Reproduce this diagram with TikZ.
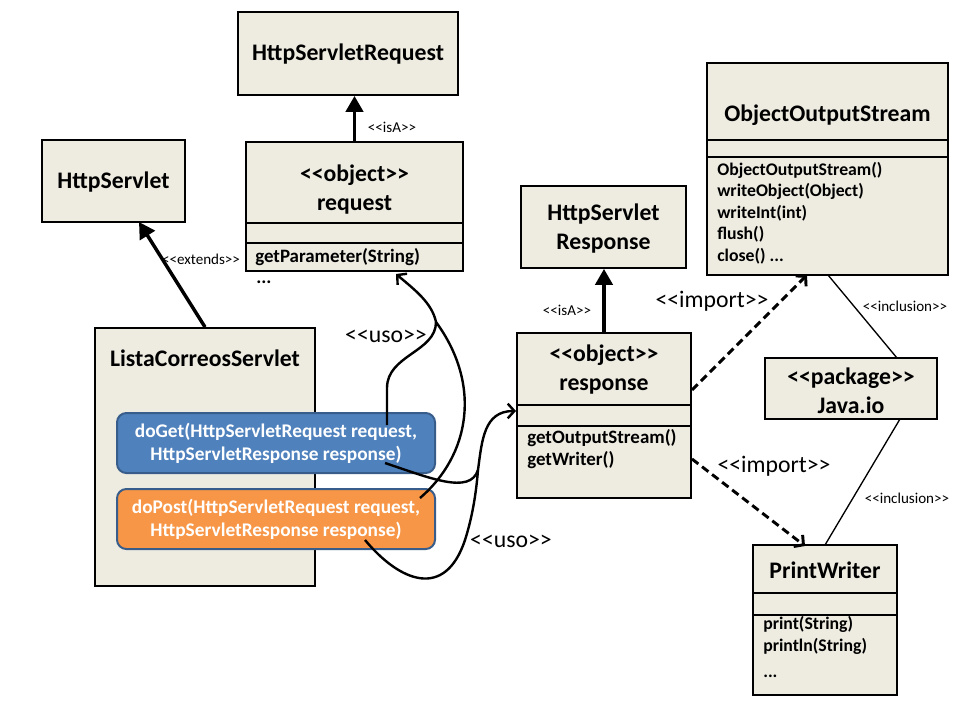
\documentclass[tikz,border=0pt]{standalone}
\usepackage{fontspec}
\setmainfont{Carlito}
\usetikzlibrary{arrows.meta,calc}
\definecolor{boxfill}{HTML}{EEECE1}
\definecolor{blueF}{HTML}{4F81BD}
\definecolor{blueD}{HTML}{385D8A}
\definecolor{orangeF}{HTML}{F79646}
\newcommand\ltlt{<\kern0pt<}
\newcommand\gtgt{>\kern0pt>}
\begin{document}
\begin{tikzpicture}[x=0.75pt,y=-0.75pt,
  cls/.style={draw=black, line width=1.4pt, fill=boxfill, inner sep=0pt, rectangle},
  ttl/.style={font=\bfseries\fontsize{17.8}{21.7}\selectfont, align=center, inner sep=0pt},
  meth/.style={font=\bfseries\fontsize{14.2}{16.5}\selectfont, align=left, anchor=west, inner sep=0pt},
  methS/.style={font=\bfseries\fontsize{13.3}{16.1}\selectfont, align=left, anchor=west, inner sep=0pt},
  small/.style={font=\fontsize{11.3}{13}\selectfont, inner sep=0pt},
  lab/.style={font=\fontsize{17.8}{20}\selectfont, inner sep=0pt},
  btn/.style={rounded corners=7pt, line width=1.5pt, draw=blueD, inner sep=0pt,
    text=white, font=\bfseries\fontsize{14.5}{17.3}\selectfont, align=center},
  isa/.style={line width=2.6pt, -{Triangle[length=12pt,width=13pt]}},
  uso/.style={line width=1.8pt},
  usoarr/.style={line width=1.8pt, -{Straight Barb[length=5pt,width=11pt]}},
  imp/.style={line width=2.2pt, dash pattern=on 6pt off 3.5pt, -{Straight Barb[length=5pt,width=11pt]}},
  incl/.style={line width=1pt}
]
\useasboundingbox (0,0) rectangle (960,720);

% ---- class boxes
\node[cls, minimum width=220*0.75pt, minimum height=83*0.75pt] (hsr) at (348,53.5) {};
\node[ttl] (hsrT) at (348,54) {HttpServletRequest};

\node[cls, minimum width=143*0.75pt, minimum height=82*0.75pt] (hs) at (113.5,181) {};
\node[ttl] (hsT) at (113.5,182) {HttpServlet};

\node[cls, minimum width=217*0.75pt, minimum height=129*0.75pt] (req) at (354.5,206.5) {};
\node[ttl] (reqT) at (354.5,189.5) {\ltlt object\gtgt\\request};
\draw[line width=1.2pt] (req.west |- 0,223) -- (req.east |- 0,223);
\draw[line width=1.2pt] (req.west |- 0,243) -- (req.east |- 0,243);
\node[meth] (reqM) at (255,257) {getParameter(String)};
\node[meth] (reqD) at (256,282) {...};

\node[cls, minimum width=220*0.75pt, minimum height=258*0.75pt] (lcs) at (205,457) {};
\node[ttl] (lcsT) at (205,358) {ListaCorreosServlet};

\node[btn, fill=blueF, minimum width=318*0.75pt, minimum height=60*0.75pt] (doget) at (276,443)
  {doGet(HttpServletRequest request,\\HttpServletResponse response)};
\node[btn, fill=orangeF, minimum width=318*0.75pt, minimum height=60*0.75pt] (dopost) at (276,519)
  {doPost(HttpServletRequest request,\\HttpServletResponse response)};

\node[cls, minimum width=165*0.75pt, minimum height=82*0.75pt] (hsresp) at (603.5,227) {};
\node[ttl] (hsrespT) at (603.5,228.5) {HttpServlet\\Response};

\node[cls, minimum width=174*0.75pt, minimum height=165*0.75pt] (resp) at (604,415.5) {};
\node[ttl] (respT) at (604,369.5) {\ltlt object\gtgt\\response};
\draw[line width=1.2pt] (resp.west |- 0,405) -- (resp.east |- 0,405);
\draw[line width=1.2pt] (resp.west |- 0,426) -- (resp.east |- 0,426);
\node[meth] (respM) at (527,449) {getOutputStream()\\getWriter()};

\node[cls, minimum width=241*0.75pt, minimum height=212*0.75pt] (oos) at (827.5,169) {};
\node[ttl] (oosT) at (827.5,115) {ObjectOutputStream};
\draw[line width=1.2pt] (oos.west |- 0,140) -- (oos.east |- 0,140);
\draw[line width=1.2pt] (oos.west |- 0,157) -- (oos.east |- 0,157);
\node[methS] (oosM) at (717,213) {ObjectOutputStream()\\writeObject(Object)\\writeInt(int)\\flush()\\close() ...};

\node[cls, minimum width=172*0.75pt, minimum height=61*0.75pt] (jio) at (851,388.5) {};
\node[ttl] (jioT) at (851,390.5) {\ltlt package\gtgt\\Java.io};

\node[cls, minimum width=144*0.75pt, minimum height=150*0.75pt] (pw) at (825,620) {};
\node[ttl] (pwT) at (825,570) {PrintWriter};
\draw[line width=1.2pt] (pw.west |- 0,593) -- (pw.east |- 0,593);
\draw[line width=1.2pt] (pw.west |- 0,615) -- (pw.east |- 0,615);
\node[methS] (pwM) at (763,635.5) {print(String)\\println(String)};
\node[methS] (pwD) at (763,676) {...};

% ---- generalisation arrows
\coordinate (hsb) at (139,222);
\draw[isa] (lcs.north) -- (hsb);
\node[small] (extL) at (201,259) {\ltlt extends\gtgt};
\draw[isa] (req.north) -- (req.north |- hsr.south);
\node[small] (isaL1) at (392,127) {\ltlt isA\gtgt};
\draw[isa] (resp.north) -- (resp.north |- hsresp.south);
\node[small] (isaL2) at (567,310) {\ltlt isA\gtgt};

% ---- import arrows
\coordinate (i1s) at (692,390);
\coordinate (i1e) at (807,275);
\coordinate (i2s) at (692,459);
\coordinate (i2e) at (805,546);
\draw[imp] (i1s) -- (i1e);
\draw[imp] (i2s) -- (i2e);
\node[lab] (impL1) at (712,301) {\ltlt import\gtgt};
\node[lab] (impL2) at (774,466) {\ltlt import\gtgt};

% ---- inclusion lines
\coordinate (c1s) at (828,275);
\coordinate (c1e) at (897,358);
\coordinate (c2s) at (900,419);
\coordinate (c2e) at (825,545);
\draw[incl] (c1s) -- (c1e);
\draw[incl] (c2s) -- (c2e);
\node[small] (inclL1) at (905,306) {\ltlt inclusion\gtgt};
\node[small] (inclL2) at (907,498) {\ltlt inclusion\gtgt};

% ---- uso curves
\coordinate (g1) at (387,425);
\coordinate (g2) at (385,463);
\coordinate (p1) at (420,498);
\coordinate (p2) at (365,540);
\coordinate (m1) at (436,322);
\coordinate (m2) at (478,470);
\coordinate (rqin) at (396,274);
\coordinate (rsin) at (516,411);
\draw[uso] (g1) -- (387,388) .. controls (387,355) and (436,352) .. (m1);
\draw[uso] (p1) .. controls (470,455) and (482,385) .. (m1);
\draw[usoarr] (m1) .. controls (432,303) and (415,290) .. (rqin);
\draw[uso] (g2) .. controls (430,478) and (470,495) .. (m2);
\draw[uso] (p2) .. controls (400,582) and (445,600) .. (465,540) .. controls (472,518) and (476,495) .. (m2);
\draw[usoarr] (m2) .. controls (482,440) and (484,411) .. (rsin);
\node[lab] (usoL1) at (386,336) {\ltlt uso\gtgt};
\node[lab] (usoL2) at (511,541) {\ltlt uso\gtgt};
\end{tikzpicture}
\end{document}
